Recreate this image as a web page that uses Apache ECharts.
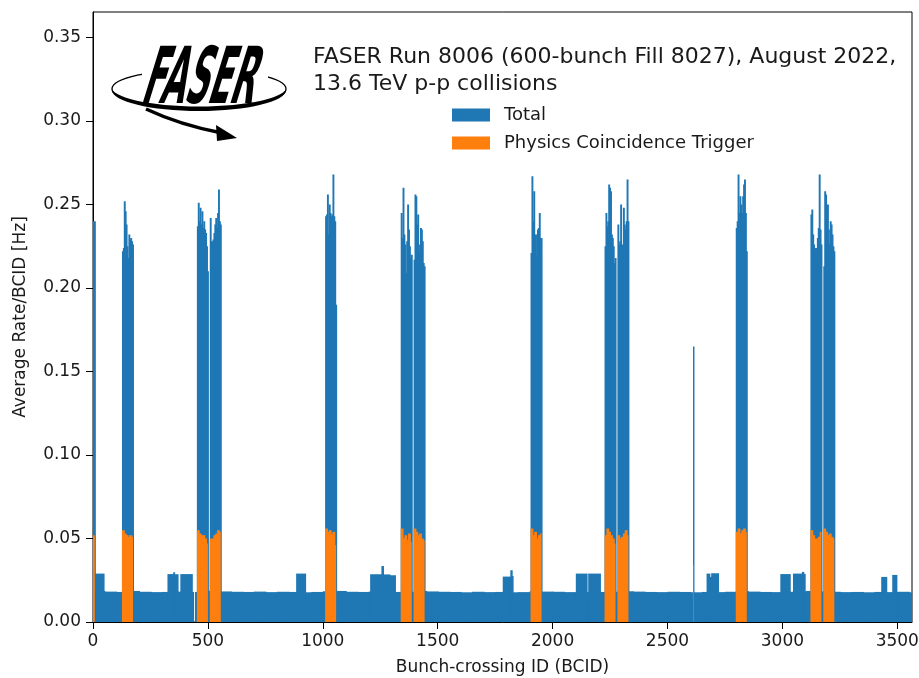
<!DOCTYPE html>
<html><head><meta charset="utf-8">
<script src="https://cdn.jsdelivr.net/npm/echarts@6/dist/echarts.min.js"></script>
<style>html,body{margin:0;padding:0;background:#fff}#c{width:919px;height:678px}</style>
</head><body><div id="c"></div>
<script>
// ---------------- data ----------------
const NBCID = 3564;
const xTicks = [0, 500, 1000, 1500, 2000, 2500, 3000, 3500];
const yTicks = [0, 0.05, 0.10, 0.15, 0.20, 0.25, 0.30, 0.35];

// non-colliding background level, one value per 50-BCID chunk
const bgChunk = 50;
const bgLevels = [
  0.0185,0.0182,0.0180,0.0186,0.0181,0.0179,0.0180,0.0182,0.0180,0.0178,
  0.0187,0.0183,0.0181,0.0180,0.0182,0.0179,0.0181,0.0180,0.0178,0.0180,
  0.0184,0.0186,0.0181,0.0180,0.0182,0.0179,0.0180,0.0181,0.0186,0.0183,
  0.0181,0.0180,0.0178,0.0181,0.0179,0.0180,0.0178,0.0179,0.0184,0.0182,
  0.0181,0.0179,0.0180,0.0178,0.0180,0.0181,0.0184,0.0182,0.0180,0.0179,
  0.0181,0.0180,0.0178,0.0180,0.0179,0.0181,0.0185,0.0182,0.0180,0.0179,
  0.0181,0.0180,0.0186,0.0183,0.0181,0.0179,0.0180,0.0178,0.0180,0.0179,
  0.0181,0.0178
];
// raised background regions [startBCID, endBCID, rate]
const bumps = [
  [9,46,0.0290],
  [324,349,0.0287],[349,353,0.0298],[353,368,0.0286],
  [380,430,0.0287],
  [884,923,0.0290],
  [1206,1255,0.0286],[1255,1262,0.0335],[1262,1290,0.0285],[1290,1314,0.0280],
  [1783,1816,0.0272],[1816,1822,0.0310],[1822,1826,0.0275],
  [2101,2148,0.0290],[2155,2206,0.0290],
  [2670,2682,0.0290],[2682,2690,0.0270],[2690,2720,0.0292],
  [2991,3032,0.0287],[3046,3085,0.0290],[3085,3091,0.0300],[3091,3097,0.0288],
  [3430,3452,0.0270],[3478,3496,0.0282]
];
// empty BCIDs [start, end, rate]
const gaps = [[440,444,0.0]];

// colliding bunch trains (48 bunches each)
const trainLen = 48;
const trainStarts = [126, 452, 508, 1010, 1339, 1395, 1904, 2226, 2282, 2797, 3122, 3178];
// total rate, one value per 4 bunches
const trainTotal = [
  [0.222,0.224,0.252,0.246,0.238,0.225,0.218,0.232,0.229,0.230,0.228,0.226],
  [0.237,0.251,0.240,0.248,0.238,0.246,0.236,0.240,0.235,0.233,0.225,0.210],
  [0.242,0.228,0.228,0.229,0.233,0.238,0.242,0.236,0.245,0.259,0.240,0.238],
  [0.243,0.244,0.256,0.232,0.250,0.245,0.243,0.244,0.268,0.243,0.240,0.190],
  [0.245,0.230,0.260,0.232,0.226,0.209,0.228,0.250,0.235,0.225,0.218,0.220],
  [0.217,0.256,0.255,0.238,0.244,0.222,0.226,0.236,0.235,0.228,0.215,0.213],
  [0.221,0.267,0.240,0.258,0.232,0.220,0.232,0.235,0.236,0.245,0.230,0.230],
  [0.225,0.245,0.237,0.240,0.262,0.260,0.258,0.232,0.230,0.225,0.215,0.218],
  [0.238,0.226,0.228,0.250,0.225,0.226,0.248,0.238,0.235,0.240,0.265,0.240],
  [0.236,0.240,0.268,0.245,0.255,0.250,0.245,0.255,0.262,0.265,0.245,0.222],
  [0.244,0.247,0.232,0.226,0.222,0.224,0.223,0.230,0.236,0.268,0.235,0.226],
  [0.213,0.258,0.256,0.245,0.250,0.235,0.226,0.240,0.238,0.232,0.225,0.222]
];
// physics coincidence trigger rate, one value per 8 bunches
const trainPhysics = [
  [0.055,0.053,0.052,0.051,0.052,0.051],
  [0.055,0.053,0.052,0.052,0.050,0.047],
  [0.050,0.050,0.052,0.053,0.055,0.054],
  [0.056,0.054,0.055,0.053,0.054,0.046],
  [0.056,0.050,0.052,0.049,0.053,0.048],
  [0.056,0.054,0.052,0.053,0.050,0.049],
  [0.056,0.052,0.054,0.050,0.052,0.053],
  [0.052,0.056,0.054,0.052,0.050,0.047],
  [0.052,0.050,0.051,0.053,0.055,0.052],
  [0.054,0.056,0.053,0.055,0.056,0.054],
  [0.055,0.052,0.050,0.050,0.051,0.054],
  [0.056,0.054,0.052,0.053,0.051,0.050]
];
// isolated colliding bunches [start, end, total, physics]
const singles = [[0,8,0.240,0.052],[2611,2613,0.165,0.034]];

// ---------------- build per-BCID histograms ----------------
const total = [], physics = [];
for (let i = 0; i < NBCID; i++) { total.push(bgLevels[Math.floor(i / bgChunk)]); physics.push(0); }
bumps.concat(gaps).forEach(([s, e, v]) => { for (let i = s; i < e; i++) total[i] = v; });
trainStarts.forEach((s, t) => {
  for (let k = 0; k < trainLen; k++) {
    total[s + k] = trainTotal[t][Math.floor(k / 4)];
    physics[s + k] = trainPhysics[t][Math.floor(k / 8)];
  }
});
singles.forEach(([s, e, tv, pv]) => { for (let i = s; i < e; i++) { total[i] = tv; physics[i] = pv; } });
// merge equal neighbouring bins: [start, end, value, nextValue]
function runsOf(arr) {
  const runs = []; let s = 0;
  for (let i = 1; i <= arr.length; i++) {
    if (i === arr.length || arr[i] !== arr[s]) { runs.push([s, i, arr[s], i < arr.length ? arr[i] : 0]); s = i; }
  }
  return runs.filter(r => r[2] > 0);
}

const BLUE = '#1f77b4', ORANGE = '#ff7f0e';
function histSeries(name, arr, color, z) {
  return {
    name, type: 'custom', data: runsOf(arr), z, silent: true, clip: true,
    itemStyle: {color}, encode: {x: [0, 1], y: [2]},
    renderItem: (params, api) => {
      const p0 = api.coord([api.value(0), api.value(2)]);
      const p1 = api.coord([api.value(1), 0]);
      const ext = api.value(3) > 0 ? 1 : 0;   // close antialiasing seams between neighbours
      return {type: 'rect', shape: {x: p0[0], y: p0[1], width: p1[0] - p0[0] + ext, height: p1[1] - p0[1]},
              style: {fill: color}};
    }
  };
}

const FONT = '"DejaVu Sans", sans-serif';
const TXT = '#1a1a1a';
const chart = echarts.init(document.getElementById('c'), null, {renderer: 'canvas'});
chart.setOption({
  animation: false,
  backgroundColor: '#fff',
  grid: {left: 93, right: 7, top: 12, bottom: 56, show: true, borderColor: '#000', borderWidth: 1,
         backgroundColor: 'transparent', containLabel: false, outerBoundsMode: 'none'},
  xAxis: {
    type: 'value', min: 0, max: NBCID,
    name: 'Bunch-crossing ID (BCID)', nameLocation: 'middle', nameGap: 37,
    nameTextStyle: {fontFamily: FONT, fontSize: 17, color: TXT},
    axisLine: {show: true, onZero: false, lineStyle: {color: '#000', width: 1}},
    axisTick: {show: true, length: 7, lineStyle: {color: '#000'}, customValues: xTicks},
    axisLabel: {fontFamily: FONT, fontSize: 17, color: TXT, margin: 11, customValues: xTicks, formatter: v => String(v)},
    splitLine: {show: false}
  },
  yAxis: {
    type: 'value', min: 0, max: 0.3653,
    name: 'Average Rate/BCID [Hz]', nameLocation: 'middle', nameGap: 64,
    nameTextStyle: {fontFamily: FONT, fontSize: 17, color: TXT},
    axisLine: {show: true, lineStyle: {color: '#000', width: 1}},
    axisTick: {show: true, length: 7, lineStyle: {color: '#000'}, customValues: yTicks},
    axisLabel: {fontFamily: FONT, fontSize: 17, color: TXT, margin: 12, customValues: yTicks, formatter: v => v.toFixed(2)},
    splitLine: {show: false}
  },
  legend: {
    orient: 'vertical', left: 447, top: 101, icon: 'rect', itemWidth: 38, itemHeight: 13, itemGap: 10,
    textStyle: {fontFamily: FONT, fontSize: 18, color: TXT, lineHeight: 18, padding: [0, 0, 0, 9]},
    data: [
      {name: 'Total', itemStyle: {color: BLUE}},
      {name: 'Physics Coincidence Trigger', itemStyle: {color: ORANGE}}
    ]
  },
  series: [
    histSeries('Total', total, BLUE, 2),
    histSeries('Physics Coincidence Trigger', physics, ORANGE, 3)
  ],
  graphic: [
    {type: 'text', left: 313, top: 44, z: 10,
     style: {text: 'FASER Run 8006 (600-bunch Fill 8027), August 2022,\n13.6 TeV p-p collisions',
             font: '22px ' + FONT, fill: TXT, lineHeight: 27}},
    // FASER logo (decoration)
    {type: 'ellipse', z: 10, shape: {cx: 199, cy: 90, rx: 87, ry: 21}, style: {fill: '#000'}},
    {type: 'ellipse', z: 11, shape: {cx: 199, cy: 86.5, rx: 88, ry: 20}, style: {fill: '#fff'}},
    {type: 'ellipse', z: 12, shape: {cx: 199, cy: 89, rx: 87, ry: 19.5}, style: {fill: 'none', stroke: '#000', lineWidth: 1.3}},
    {type: 'bezierCurve', z: 12, shape: {x1: 146, y1: 109, x2: 222, y2: 133, cpx1: 180, cpy1: 125}, style: {fill: 'none', stroke: '#000', lineWidth: 3.5}},
    {type: 'polygon', z: 12, shape: {points: [[237, 138], [216, 125], [217, 141]]}, style: {fill: '#000'}},
    {type: 'rect', z: 13, shape: {x: 142, y: 62, width: 126, height: 18}, style: {fill: '#fff'}},
    {type: 'text', z: 14, x: 146, y: 83, scaleX: 0.40, scaleY: 0.98, skewX: -0.3, originX: 0, originY: 0,
     style: {text: 'FASER', x: 0, y: 0, font: 'bold 80px ' + FONT, fill: '#000', verticalAlign: 'middle', textVerticalAlign: 'middle'}}
  ]
});
</script></body></html>
